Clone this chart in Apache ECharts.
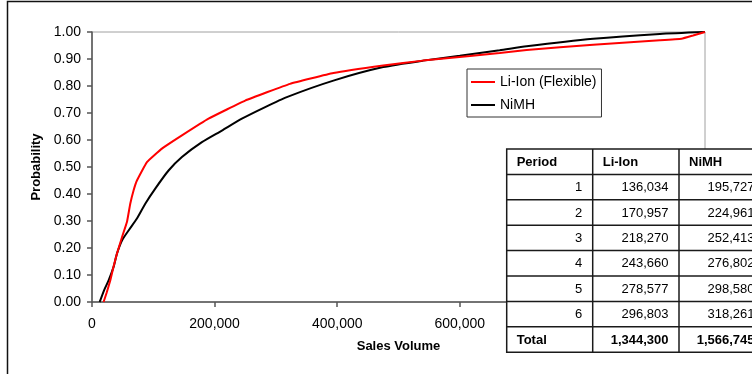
<!DOCTYPE html>
<html>
<head>
<meta charset="utf-8">
<script src="https://cdn.jsdelivr.net/npm/echarts@6/dist/echarts.min.js"></script>
<style>
  html, body { margin: 0; padding: 0; background: #fff; }
  #chart { width: 752px; height: 374px; }
</style>
</head>
<body>
<div id="chart"></div>
<script>
// Cumulative probability of sales volume for the two battery options
const liIonCdf = [
  [18900, 0], [24000, 0.035], [29800, 0.08], [35000, 0.13], [40700, 0.179],
  [48900, 0.24], [57000, 0.296], [62400, 0.364], [67800, 0.413], [73300, 0.45],
  [89600, 0.518], [114100, 0.568], [146700, 0.617], [190100, 0.679], [249900, 0.746],
  [323000, 0.808], [393800, 0.848], [475000, 0.876], [540000, 0.894], [616600, 0.911],
  [665000, 0.922], [709000, 0.933], [817600, 0.953], [926300, 0.969], [961700, 0.975],
  [980600, 0.987], [1000000, 1.0]
];
const nimhCdf = [
  [12400, 0], [13500, 0.006], [20000, 0.045], [27100, 0.08], [35200, 0.13],
  [40700, 0.179], [48900, 0.228], [59700, 0.265], [73300, 0.309], [86900, 0.364],
  [103200, 0.42], [124900, 0.487], [146700, 0.537], [179300, 0.592], [211900, 0.635],
  [244500, 0.679], [282500, 0.722], [317800, 0.759], [393800, 0.82], [475000, 0.87],
  [540000, 0.894], [600000, 0.912], [665000, 0.932], [709000, 0.947], [817600, 0.975],
  [926300, 0.993], [1000000, 1.0]
];
const seriesNames = ['Li-Ion (Flexible)', 'NiMH'];

// Per-period sales table
const tableHeader = ['Period', 'Li-Ion', 'NiMH'];
const periods = ['1', '2', '3', '4', '5', '6'];
const liIonSales = ['136,034', '170,957', '218,270', '243,660', '278,577', '296,803'];
const nimhSales = ['195,727', '224,961', '252,413', '276,802', '298,580', '318,261'];
const totalRow = ['Total', '1,344,300', '1,566,745'];

const FONT = "'Liberation Sans', Arial, sans-serif";

// Table geometry
const tblLeft = 506.7, tblTop = 149, rowH = 25.4;
const colX = [506.7, 592.7, 679, 765];
const TZ = 200;

function buildTable() {
  const els = [];
  const nRows = periods.length + 2;
  const bottom = tblTop + nRows * rowH;
  els.push({ type: 'rect', z: TZ, shape: { x: tblLeft, y: tblTop, width: colX[3] - tblLeft, height: nRows * rowH },
    style: { fill: '#fff', stroke: '#1a1a1a', lineWidth: 1.5 } });
  for (let r = 1; r < nRows; r++) {
    const y = tblTop + r * rowH;
    els.push({ type: 'line', z: TZ + 1, shape: { x1: tblLeft, y1: y, x2: colX[3], y2: y }, style: { stroke: '#1a1a1a', lineWidth: 1.5 } });
  }
  for (let c = 1; c < 3; c++) {
    els.push({ type: 'line', z: TZ + 1, shape: { x1: colX[c], y1: tblTop, x2: colX[c], y2: bottom }, style: { stroke: '#1a1a1a', lineWidth: 1.5 } });
  }
  const txt = (s, x, y, align, bold) => ({
    type: 'text', z: TZ + 2, x: x, y: y,
    style: { text: s, fill: '#000', font: (bold ? 'bold ' : '') + '13px ' + FONT, textAlign: align, textVerticalAlign: 'middle' }
  });
  const cy = r => tblTop + r * rowH + rowH / 2 + 0.5;
  tableHeader.forEach((h, c) => els.push(txt(h, colX[c] + 10, cy(0), 'left', true)));
  periods.forEach((p, i) => {
    els.push(txt(p, colX[1] - 10.5, cy(i + 1), 'right', false));
    els.push(txt(liIonSales[i], colX[2] - 10.5, cy(i + 1), 'right', false));
    els.push(txt(nimhSales[i], colX[3] - 10.5, cy(i + 1), 'right', false));
  });
  const last = nRows - 1;
  els.push(txt(totalRow[0], colX[0] + 10, cy(last), 'left', true));
  els.push(txt(totalRow[1], colX[2] - 10.5, cy(last), 'right', true));
  els.push(txt(totalRow[2], colX[3] - 10.5, cy(last), 'right', true));
  return els;
}

const chart = echarts.init(document.getElementById('chart'), null, { renderer: 'canvas' });
chart.setOption({
  animation: false,
  backgroundColor: '#fff',
  textStyle: { fontFamily: FONT },
  grid: {
    left: 92, top: 32, width: 613, height: 270,
    show: true, borderColor: '#a0a0a0', borderWidth: 1, backgroundColor: 'transparent'
  },
  legend: {
    orient: 'vertical', left: 467, top: 69,
    data: seriesNames,
    icon: 'rect', itemWidth: 24, itemHeight: 2, itemGap: 7,
    padding: [5, 5, 4, 4],
    borderColor: '#333', borderWidth: 1, backgroundColor: '#fff',
    textStyle: { fontSize: 14, color: '#000', fontFamily: FONT, height: 16, lineHeight: 16 }
  },
  xAxis: {
    type: 'value', min: 0, max: 1000000, interval: 200000,
    name: 'Sales Volume', nameLocation: 'middle', nameGap: 38,
    nameTextStyle: { fontSize: 13, fontWeight: 'bold', color: '#000', fontFamily: FONT },
    axisLine: { show: true, onZero: false, lineStyle: { color: '#555', width: 1.5 } },
    axisTick: { show: true, length: 5, lineStyle: { color: '#555', width: 1.5 } },
    axisLabel: { fontSize: 14, color: '#000', margin: 15,
      formatter: v => v.toLocaleString('en-US') },
    splitLine: { show: false }
  },
  yAxis: {
    type: 'value', min: 0, max: 1, interval: 0.1,
    name: 'Probability', nameLocation: 'middle', nameGap: 47, nameRotate: 90,
    nameTextStyle: { fontSize: 13, fontWeight: 'bold', color: '#000', fontFamily: FONT },
    axisLine: { show: true, lineStyle: { color: '#555', width: 1.5 } },
    axisTick: { show: true, length: 5, lineStyle: { color: '#555', width: 1.5 } },
    axisLabel: { fontSize: 14, color: '#000', margin: 11, formatter: v => v.toFixed(2) },
    splitLine: { show: false }
  },
  series: [
    { name: seriesNames[0], type: 'line', data: liIonCdf, symbol: 'none',
      smooth: 0.1, lineStyle: { color: '#ff0000', width: 2 },
      itemStyle: { color: '#ff0000' }, z: 3 },
    { name: seriesNames[1], type: 'line', data: nimhCdf, symbol: 'none',
      smooth: 0.2, lineStyle: { color: '#000', width: 2 },
      itemStyle: { color: '#000' }, z: 2 }
  ],
  graphic: {
    z: 100,
    elements: [
      { type: 'rect', z: TZ + 10, shape: { x: 7.5, y: 1.5, width: 780, height: 420 },
        style: { fill: 'none', stroke: '#111', lineWidth: 1.5 }, silent: true }
    ].concat(buildTable())
  }
});
</script>
</body>
</html>
